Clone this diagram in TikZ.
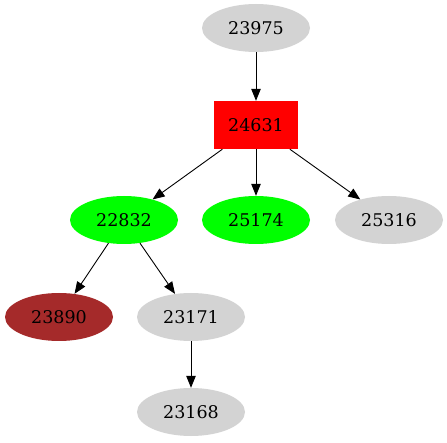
\documentclass[tikz,border=0pt]{standalone}
\usepackage{fontspec}
\setmainfont{DejaVu Serif}
\usetikzlibrary{shapes.geometric,arrows.meta}
\definecolor{gvgray}{HTML}{D3D3D3}
\definecolor{gvgreen}{HTML}{00FF00}
\definecolor{gvbrown}{HTML}{A52A2A}
\definecolor{gvred}{HTML}{FF0000}
\tikzset{
  ell/.style={ellipse, minimum width=108pt, minimum height=48pt, inner sep=0pt, font=\fontsize{17.5}{20}\selectfont},
  boxnode/.style={rectangle, minimum width=84pt, minimum height=48pt, inner sep=0pt, font=\fontsize{17.5}{20}\selectfont},
  edge/.style={-{Triangle[length=12pt,width=9.5pt]}, line width=0.9pt, black}
}
\begin{document}
\begin{tikzpicture}[x=1pt,y=-1pt]
\useasboundingbox (0,0) rectangle (447,443);
\node[ell, fill=gvgray] (n23975) at (256,28) {23975};
\node[boxnode, fill=gvred] (n24631) at (256,125) {24631};
\node[ell, fill=gvgreen] (n22832) at (124,220) {22832};
\node[ell, fill=gvgreen] (n25174) at (256,220) {25174};
\node[ell, fill=gvgray] (n25316) at (389,220) {25316};
\node[ell, fill=gvbrown] (n23890) at (59,317) {23890};
\node[ell, fill=gvgray] (n23171) at (191,317) {23171};
\node[ell, fill=gvgray] (n23168) at (191,412) {23168};
\draw[edge] (n23975) -- (n24631);
\draw[edge] (n24631) -- (n22832);
\draw[edge] (n24631) -- (n25174);
\draw[edge] (n24631) -- (n25316);
\draw[edge] (n22832) -- (n23890);
\draw[edge] (n22832) -- (n23171);
\draw[edge] (n23171) -- (n23168);
\end{tikzpicture}
\end{document}
